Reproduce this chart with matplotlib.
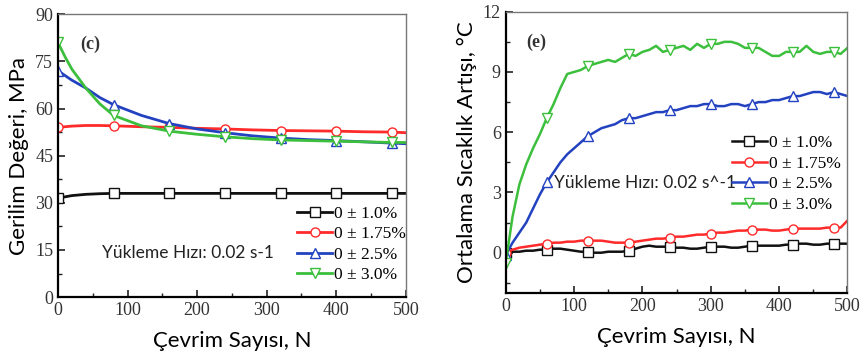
import matplotlib
matplotlib.use("Agg")
import matplotlib.pyplot as plt
from matplotlib.ticker import MultipleLocator

# ---- data: left panel (stress vs cycles) ----
n_stress = [0, 10, 20, 40, 60, 80, 120, 160, 200, 240, 280, 320, 360, 400, 440, 480, 500]
stress_10 = [31.5, 31.9, 32.3, 32.7, 32.9, 33.0, 33.0, 33.0, 33.0, 33.0, 33.0, 33.0, 33.0, 33.0, 33.0, 33.0, 33.0]
stress_175 = [54.0, 54.2, 54.4, 54.6, 54.6, 54.5, 54.2, 54.0, 53.7, 53.5, 53.2, 53.0, 52.9, 52.8, 52.6, 52.5, 52.3]
stress_25 = [72.0, 70.5, 69.0, 66.5, 63.5, 61.2, 57.8, 55.2, 53.5, 52.3, 51.3, 50.6, 50.1, 49.8, 49.4, 49.0, 48.8]
stress_30 = [81.0, 76.5, 72.5, 66.5, 61.5, 57.8, 54.5, 52.8, 51.8, 51.0, 50.4, 50.0, 49.8, 49.6, 49.4, 49.2, 49.2]
stress_marks = [0, 5, 7, 9, 11, 13, 15]

# ---- data: right panel (temperature rise vs cycles) ----
n_temp = list(range(0, 510, 10))
temp_10 = [0.0, 0.05, 0.05, 0.1, 0.1, 0.15, 0.15, 0.2, 0.2, 0.15, 0.1, 0.05, 0.05, 0.0, 0.0, 0.05,
           0.05, 0.05, 0.1, 0.2, 0.3, 0.35, 0.3, 0.3, 0.3, 0.25, 0.25, 0.2, 0.2, 0.25, 0.3,
           0.3, 0.3, 0.25, 0.25, 0.3, 0.35, 0.35, 0.35, 0.35, 0.35, 0.4, 0.4, 0.45, 0.45, 0.4,
           0.4, 0.45, 0.45, 0.45, 0.45]
temp_175 = [0.0, 0.15, 0.25, 0.3, 0.35, 0.4, 0.45, 0.5, 0.5, 0.55, 0.55, 0.6, 0.6, 0.6, 0.6, 0.55,
            0.5, 0.5, 0.5, 0.55, 0.6, 0.65, 0.7, 0.7, 0.75, 0.8, 0.8, 0.85, 0.9, 0.9, 0.95,
            1.0, 1.0, 1.05, 1.1, 1.1, 1.15, 1.15, 1.15, 1.1, 1.1, 1.15, 1.2, 1.2, 1.2, 1.2,
            1.2, 1.25, 1.25, 1.25, 1.6]
temp_25 = [-0.1, 0.5, 1.0, 1.5, 2.2, 2.9, 3.5, 4.0, 4.5, 4.9, 5.2, 5.5, 5.8, 6.0, 6.2, 6.3,
           6.4, 6.6, 6.7, 6.7, 6.8, 6.9, 7.0, 7.0, 7.1, 7.1, 7.2, 7.3, 7.3, 7.4, 7.4,
           7.3, 7.3, 7.4, 7.4, 7.3, 7.4, 7.5, 7.5, 7.6, 7.6, 7.7, 7.8, 7.8, 7.9, 8.0,
           8.0, 7.9, 8.0, 7.9, 7.8]
temp_30 = [-0.5, 1.8, 3.4, 4.4, 5.2, 5.9, 6.7, 7.4, 8.2, 8.9, 9.0, 9.1, 9.3, 9.4, 9.5, 9.6,
           9.5, 9.7, 9.9, 9.8, 10.0, 10.1, 10.3, 10.0, 10.1, 10.2, 10.3, 10.1, 10.4, 10.2, 10.4,
           10.4, 10.5, 10.5, 10.4, 10.2, 10.2, 10.2, 10.0, 9.8, 9.8, 10.0, 10.0, 10.0, 10.3, 10.0,
           9.9, 10.0, 10.0, 9.9, 10.2]
temp_marks = list(range(0, 49, 6))

labels = ["0 ± 1.0%", "0 ± 1.75%", "0 ± 2.5%", "0 ± 3.0%"]
colors = ["#111111", "#ff2a2a", "#2342c0", "#3cbf3c"]
markers = ["s", "o", "^", "v"]

serif = "Liberation Serif"
sans = "Lato"

fig = plt.figure(figsize=(8.63, 3.55), dpi=100)
ax1 = fig.add_axes([0.0672, 0.163, 0.403, 0.797])
ax2 = fig.add_axes([0.586, 0.175, 0.396, 0.792])


def style_axes(ax):
    ax.tick_params(which="both", direction="in", top=False, right=False,
                   labelsize=13, labelcolor="#333333", color="#222222")
    ax.tick_params(which="major", length=5, width=1.2)
    ax.tick_params(which="minor", length=3, width=1.0)
    for lab in ax.get_xticklabels() + ax.get_yticklabels():
        lab.set_fontfamily(serif)
    for side in ["left", "bottom"]:
        ax.spines[side].set_linewidth(1.6)
    for side in ["top", "right"]:
        ax.spines[side].set_linewidth(1.0)
        ax.spines[side].set_color("#777777")


# left panel
for ys, c, m, lab in zip([stress_10, stress_175, stress_25, stress_30], colors, markers, labels):
    ax1.plot(n_stress, ys, color=c, lw=2, marker=m, ms=6.5, mfc="white", mec=c,
             mew=1.0, markevery=stress_marks, label=lab)
ax1.set_xlim(0, 500)
ax1.set_ylim(0, 90)
ax1.xaxis.set_major_locator(MultipleLocator(100))
ax1.xaxis.set_minor_locator(MultipleLocator(50))
ax1.yaxis.set_major_locator(MultipleLocator(15))
ax1.yaxis.set_minor_locator(MultipleLocator(7.5))
style_axes(ax1)
ax1.set_xlabel("Çevrim Sayısı, N", fontfamily=sans, fontsize=16, labelpad=9)
ax1.set_ylabel("Gerilim Değeri, MPa", fontfamily=sans, fontsize=16, labelpad=4)
ax1.text(0.065, 0.894, "(c)", transform=ax1.transAxes, fontfamily=serif, va="center",
         fontsize=13, fontweight="bold", color="#333333")
ax1.text(0.126, 0.155, "Yükleme Hızı: 0.02 s-1", transform=ax1.transAxes, va="center",
         fontfamily=sans, fontsize=12.5, color="#222222")
ax1.legend(loc="lower right", bbox_to_anchor=(1.04, 0.0), frameon=False,
           prop={"family": serif, "size": 12.5}, handlelength=2.0,
           handletextpad=0.1, labelspacing=0.25, borderpad=0.3)

# right panel
for ys, c, m, lab in zip([temp_10, temp_175, temp_25, temp_30], colors, markers, labels):
    ax2.plot(n_temp, ys, color=c, lw=1.8, marker=m, ms=6.5, mfc="white", mec=c,
             mew=1.0, markevery=temp_marks, label=lab)
ax2.set_xlim(0, 500)
ax2.set_ylim(-2, 12)
ax2.xaxis.set_major_locator(MultipleLocator(100))
ax2.xaxis.set_minor_locator(MultipleLocator(50))
ax2.yaxis.set_major_locator(MultipleLocator(3))
ax2.yaxis.set_minor_locator(MultipleLocator(1.5))
style_axes(ax2)
ax2.set_xlabel("Çevrim Sayısı, N", fontfamily=sans, fontsize=16, labelpad=9)
ax2.set_ylabel("Ortalama Sıcaklık Artışı, °C", fontfamily=sans, fontsize=16, labelpad=4)
ax2.text(0.06, 0.89, "(e)", transform=ax2.transAxes, fontfamily=serif, va="center",
         fontsize=13, fontweight="bold", color="#333333")
ax2.text(0.142, 0.39, "Yükleme Hızı: 0.02 s^-1", transform=ax2.transAxes, va="center",
         fontfamily=sans, fontsize=12.5, color="#222222")
ax2.legend(loc="upper right", bbox_to_anchor=(1.02, 0.61), frameon=False,
           prop={"family": serif, "size": 12.5}, handlelength=2.0,
           handletextpad=0.1, labelspacing=0.25, borderpad=0.3)

fig.savefig("out.png", dpi=100)
